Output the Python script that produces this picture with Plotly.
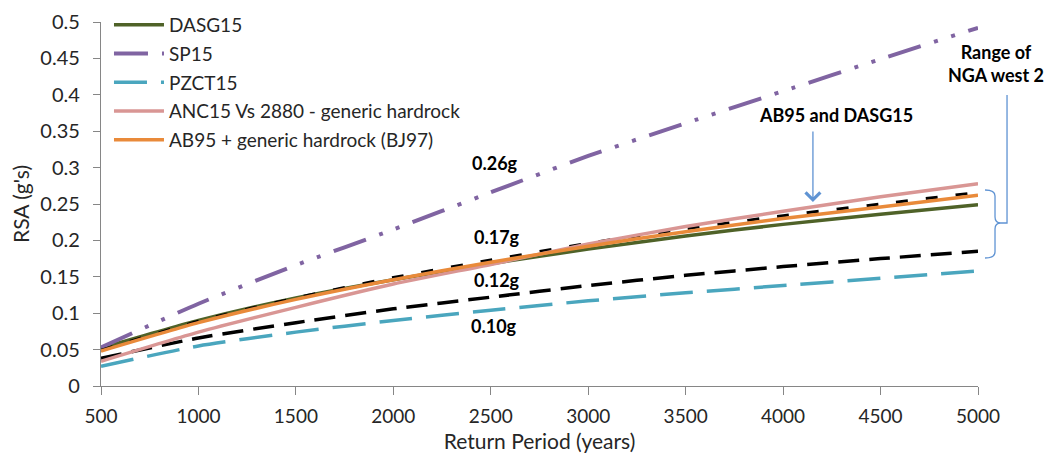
import plotly.graph_objects as go

# ---- data ----
return_period = [500, 1000, 1500, 2000, 2500, 3000, 3500, 4000, 4500, 5000]
dasg15 = [0.052, 0.090, 0.121, 0.146, 0.168, 0.188, 0.206, 0.222, 0.236, 0.249]
sp15 = [0.053, 0.113, 0.166, 0.215, 0.266, 0.316, 0.361, 0.405, 0.449, 0.492]
pzct15 = [0.027, 0.055, 0.074, 0.090, 0.104, 0.117, 0.128, 0.138, 0.148, 0.158]
nga_low = [0.038, 0.066, 0.087, 0.106, 0.122, 0.138, 0.152, 0.164, 0.175, 0.185]
nga_high = [0.049, 0.089, 0.121, 0.149, 0.173, 0.196, 0.216, 0.234, 0.250, 0.266]
anc15 = [0.034, 0.074, 0.108, 0.140, 0.167, 0.195, 0.219, 0.240, 0.260, 0.278]
ab95 = [0.048, 0.087, 0.119, 0.146, 0.170, 0.192, 0.212, 0.230, 0.246, 0.262]

x_ticks = [500, 1000, 1500, 2000, 2500, 3000, 3500, 4000, 4500, 5000]
y_ticks = [0, 0.05, 0.1, 0.15, 0.2, 0.25, 0.3, 0.35, 0.4, 0.45, 0.5]
y_tick_text = ["0", "0.05", "0.1", "0.15", "0.2", "0.25", "0.3", "0.35", "0.4", "0.45", "0.5"]

value_labels = ["0.26g", "0.17g", "0.12g", "0.10g"]
value_label_x = [2520, 2532, 2532, 2517]
value_label_y = [0.3063, 0.2047, 0.1456, 0.0824]

FONT = "Lato, 'Open Sans', sans-serif"
TXT = "#262626"
AXC = "#868686"
BLUE = "#5f93d3"

fig = go.Figure()

def add(name, y, color, width, dash="solid", legend=True):
    fig.add_trace(go.Scatter(
        x=return_period, y=y, name=name, mode="lines",
        line=dict(color=color, width=width, dash=dash, shape="spline", smoothing=0.6),
        showlegend=legend, legendgroup=name, hoverinfo="skip"))

add("DASG15", dasg15, "#4f6228", 3.5)
add("SP15", sp15, "#8064a2", 4, "34px,14px,4px,14px,4px,14px")
add("PZCT15", pzct15, "#4aa6be", 3.5, "33px,14px")
add("NGA low", nga_low, "#000000", 3.5, "21px,10px", legend=False)
add("NGA high", nga_high, "#000000", 3, "12px,18px", legend=False)
add("ANC15 Vs 2880 - generic hardrock", anc15, "#d99694", 3.5)
add("AB95 + generic hardrock (BJ97)", ab95, "#e98a3a", 3.5)

annotations = []
for t, xv, yv in zip(value_labels, value_label_x, value_label_y):
    annotations.append(dict(x=xv, y=yv, xref="x", yref="y", text="<b>%s</b>" % t,
                            xanchor="center", yanchor="middle",
                            showarrow=False, font=dict(family=FONT, size=18, color="#000")))
annotations.append(dict(x=4271, y=0.3723, xref="x", yref="y", text="<b>AB95 and DASG15</b>",
                        xanchor="center", yanchor="middle",
                        showarrow=False, font=dict(family=FONT, size=18, color="#000")))
annotations.append(dict(x=1.0205, y=0.886, xref="paper", yref="paper",
                        text="<b>Range of</b><br><b>NGA west 2</b>", showarrow=False,
                        xanchor="center", yanchor="middle",
                        font=dict(family=FONT, size=18, color="#000")))
annotations.append(dict(x=4153, y=0.2527, xref="x", yref="y", text="", showarrow=True,
                        ax=0, ay=-72, arrowcolor=BLUE, arrowwidth=1.3, arrowhead=4, arrowsize=2.2))

# brace + connector (paper coords)
xl, xr, xt = 1.0080, 1.0194, 1.0262
yt, ym, yb = 0.5385, 0.4478, 0.3516
ry = 0.0165
brace = (f"M {xl},{yt} Q {xr},{yt} {xr},{yt-ry} L {xr},{ym+ry} Q {xr},{ym} {xt},{ym} "
         f"Q {xr},{ym} {xr},{ym-ry} L {xr},{yb+ry} Q {xr},{yb} {xl},{yb}")
shapes = [
    dict(type="path", path=brace, xref="paper", yref="paper", line=dict(color=BLUE, width=1.3)),
    dict(type="path", path=f"M {xt},{ym} L 1.0331,{ym} L 1.0331,0.7995", xref="paper", yref="paper",
         line=dict(color=BLUE, width=1.3)),
]

# page body has an 8px margin, so the figure is 8px smaller and margins shifted
fig.update_layout(
    width=1046, height=448,
    margin=dict(l=93, r=76, t=14, b=70, autoexpand=False),
    paper_bgcolor="white", plot_bgcolor="white",
    showlegend=True,
    legend=dict(x=0.0091, y=1.0440, xanchor="left", yanchor="top", bgcolor="rgba(0,0,0,0)",
                font=dict(family=FONT, size=19, color=TXT), tracegroupgap=1,
                traceorder="grouped", itemwidth=50),
    xaxis=dict(range=[500, 5000], tickvals=x_ticks, showgrid=False, zeroline=False,
               showline=True, linecolor=AXC, linewidth=1.3, ticks="outside", ticklen=8,
               tickcolor=AXC, tickwidth=1.3, ticklabelstandoff=5, automargin=False,
               ticklabeloverflow="allow",
               tickfont=dict(family=FONT, size=19, color=TXT),
               title=dict(text="Return Period (years)", standoff=8,
                          font=dict(family=FONT, size=21, color=TXT))),
    yaxis=dict(range=[0, 0.5], tickvals=y_ticks, ticktext=y_tick_text, showgrid=False,
               zeroline=False, showline=True, linecolor=AXC, linewidth=1.3,
               ticks="outside", ticklen=7, tickcolor=AXC, tickwidth=1.3,
               ticklabelstandoff=9, automargin=False, ticklabeloverflow="allow",
               tickfont=dict(family=FONT, size=20, color=TXT),
               title=dict(text="RSA (g's)", standoff=4,
                          font=dict(family=FONT, size=21, color=TXT))),
    yaxis2=dict(range=[0, 0.5], tickvals=y_ticks, overlaying="y", side="left", anchor="x",
                showgrid=False, zeroline=False, showline=False, ticks="inside", ticklen=7,
                tickcolor=AXC, tickwidth=1.3, showticklabels=False, automargin=False),
    annotations=annotations,
    shapes=shapes,
)

fig.write_html("out.html")
